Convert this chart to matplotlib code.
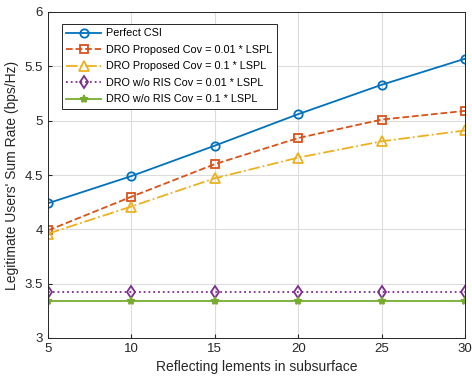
import numpy as np
import matplotlib.pyplot as plt

plt.rcParams['font.family'] = ['Liberation Sans', 'DejaVu Sans']

elements = [5, 10, 15, 20, 25, 30]
perfect_csi = [4.24, 4.49, 4.77, 5.06, 5.33, 5.57]
dro_cov001 = [3.99, 4.30, 4.60, 4.84, 5.01, 5.09]
dro_cov01 = [3.96, 4.21, 4.47, 4.66, 4.81, 4.91]
noris_cov001 = [3.42, 3.42, 3.42, 3.42, 3.42, 3.42]
noris_cov01 = [3.34, 3.34, 3.34, 3.34, 3.34, 3.34]

labels = ["Perfect CSI",
          "DRO Proposed Cov = 0.01 * LSPL",
          "DRO Proposed Cov = 0.1 * LSPL",
          "DRO w/o RIS Cov = 0.01 * LSPL",
          "DRO w/o RIS Cov = 0.1 * LSPL"]

fig = plt.figure(figsize=(4.72, 3.83), dpi=100)
ax = fig.add_axes([48 / 472, 1 - 338 / 383, 417 / 472, 326 / 383])

lw = 1.3
ax.plot(elements, perfect_csi, '-o', color='#0072BD', lw=lw, ms=6, mfc='none', mew=1.3, label=labels[0])
ax.plot(elements, dro_cov001, '--s', color='#D95319', lw=lw, ms=5.5, mfc='none', mew=1.3, label=labels[1])
ax.plot(elements, dro_cov01, '-.^', color='#EDB120', lw=lw, ms=6.5, mfc='none', mew=1.3, label=labels[2])
ax.plot(elements, noris_cov001, ':d', color='#7E2F8E', lw=lw, ms=6, mfc='none', mew=1.3, label=labels[3])
ax.plot(elements, noris_cov01, '-*', color='#77AC30', lw=lw, ms=6, mew=1.3, label=labels[4])

ax.set_xlim(5, 30)
ax.set_ylim(3, 6)
ax.set_xticks(elements)
ax.set_yticks([3, 3.5, 4, 4.5, 5, 5.5, 6])
ax.set_yticklabels(['3', '3.5', '4', '4.5', '5', '5.5', '6'])
ax.tick_params(direction='in', labelsize=9.5, colors='#262626', length=3)
ax.grid(True, color='#dcdcdc', lw=0.8)
ax.set_axisbelow(True)
for s in ax.spines.values():
    s.set_color('#262626')
    s.set_linewidth(0.7)

ax.set_xlabel("Reflecting lements in subsurface", fontsize=10, color='#262626')
ax.set_ylabel("Legitimate Users' Sum Rate (bps/Hz)", fontsize=10, color='#262626')

leg = ax.legend(loc='upper left', bbox_to_anchor=(14 / 417, 314 / 326), borderaxespad=0,
                fontsize=7.8, fancybox=False, framealpha=1, edgecolor='#262626',
                handlelength=3.2, borderpad=0.4, labelspacing=0.6, handletextpad=0.5)
leg.get_frame().set_linewidth(0.7)

fig.savefig("out.png", dpi=100)
